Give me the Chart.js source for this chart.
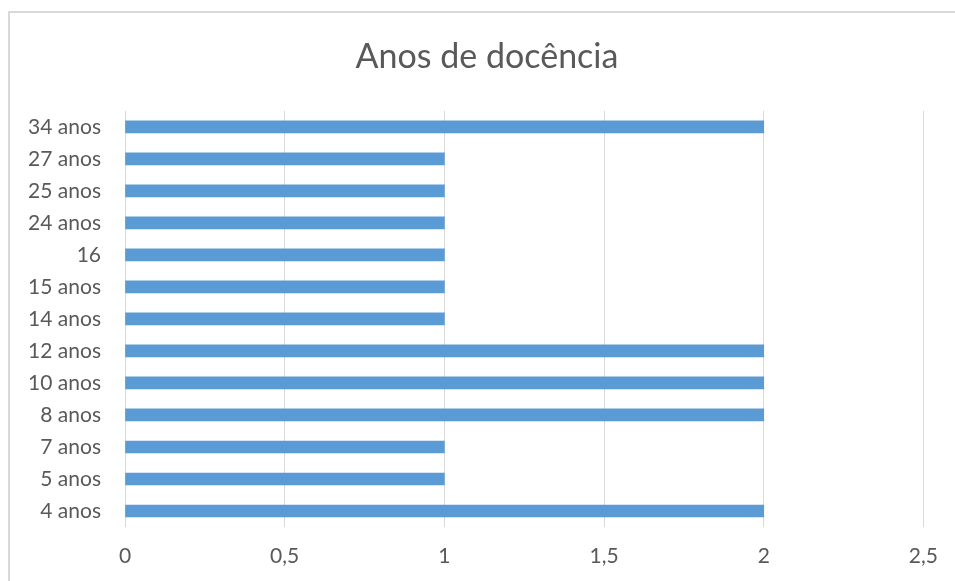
<!DOCTYPE html>
<html>
<head>
<meta charset="utf-8">
<script src="https://cdn.jsdelivr.net/npm/chart.js@4.4.0/dist/chart.umd.min.js"></script>
<style>
  html, body { margin: 0; padding: 0; background: #fff; overflow: hidden; }
  #frame { position: absolute; left: 8px; top: 11px; width: 1000px; height: 1000px; border: 2px solid #d9d9d9; }
  #wrap { position: absolute; left: 0; top: 0; width: 955px; height: 581px; }
</style>
</head>
<body>
<div id="frame"></div>
<div id="wrap"><canvas id="chart" width="955" height="581"></canvas></div>
<script>
// bottom to top, as in the picture
const categories = ["4 anos", "5 anos", "7 anos", "8 anos", "10 anos", "12 anos", "14 anos",
                    "15 anos", "16", "24 anos", "25 anos", "27 anos", "34 anos"]
const values = [2, 1, 1, 2, 2, 2, 1, 1, 1, 1, 1, 1, 2]
const xTicks = [0, 0.5, 1, 1.5, 2, 2.5]

const grey = "#595959"
const font = "Lato, 'Open Sans', sans-serif"

// the original title sits centred on the outer frame, a bit right of the canvas middle
const shiftTitle = {
    id: 'shiftTitle',
    afterLayout(chart) {
        if (chart.titleBlock) chart.titleBlock.left += 45
    }
}

new Chart(document.getElementById("chart").getContext("2d"), {
    type: 'bar',
    data: {
        labels: categories,
        datasets: [{
            data: values,
            backgroundColor: "#5b9bd5",
            barThickness: 12
        }]
    },
    options: {
        indexAxis: 'y',
        responsive: false,
        animation: false,
        layout: { padding: { left: 0, right: 26, top: 0, bottom: 0 } },
        plugins: {
            legend: { display: false },
            tooltip: { enabled: false },
            title: {
                display: true,
                text: 'Anos de docência',
                color: grey,
                font: { family: font, size: 34, weight: 'normal', lineHeight: 1.2 },
                padding: { top: 37, bottom: 33 }
            }
        },
        scales: {
            x: {
                min: 0,
                max: 2.5,
                afterBuildTicks: (scale) => { scale.ticks = xTicks.map(v => ({ value: v })) },
                afterFit: (scale) => { scale.height = 54 },
                border: { display: false },
                grid: { color: "#d9d9d9", drawTicks: false },
                ticks: {
                    color: grey,
                    padding: 17,
                    font: { family: font, size: 21 },
                    callback: (v) => String(v).replace('.', ',')
                }
            },
            y: {
                reverse: true,
                afterFit: (scale) => { scale.width = 125 },
                border: { display: false },
                grid: { display: false, drawTicks: false },
                ticks: {
                    color: grey,
                    padding: 24,
                    font: { family: font, size: 21 }
                }
            }
        }
    },
    plugins: [shiftTitle]
})
</script>
</body>
</html>
